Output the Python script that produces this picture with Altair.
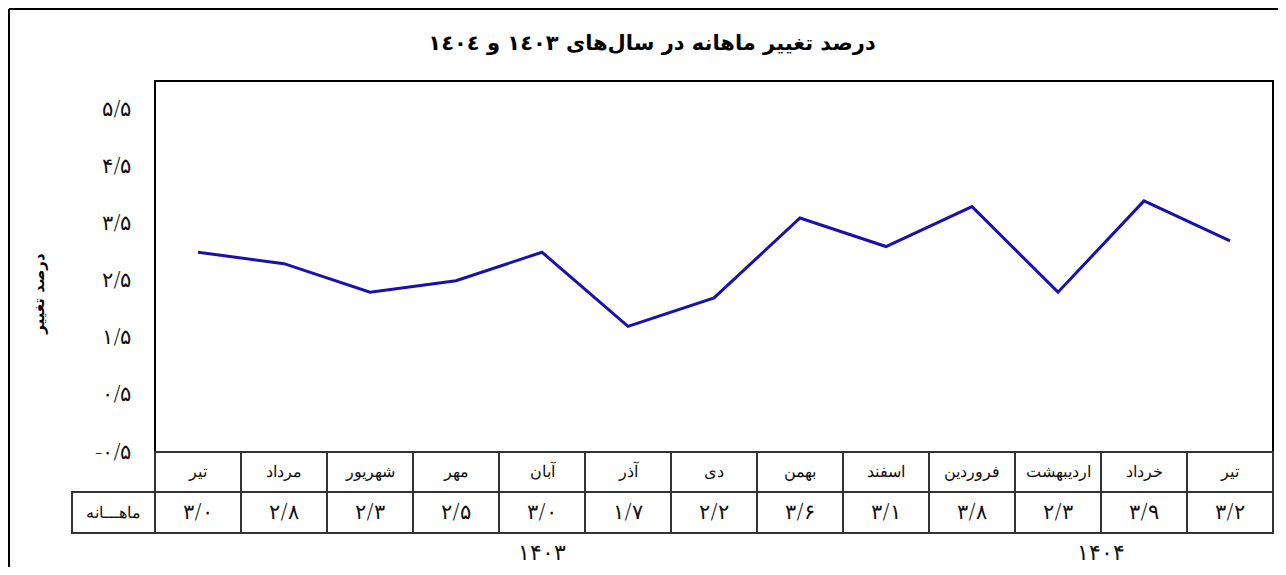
import altair as alt
import pandas as pd

# ---- data ----
months = ['تیر', 'مرداد', 'شهریور', 'مهر', 'آبان', 'آذر', 'دی', 'بهمن',
          'اسفند', 'فروردین', 'اردیبهشت', 'خرداد', 'تیر']
values = [3.0, 2.8, 2.3, 2.5, 3.0, 1.7, 2.2, 3.6, 3.1, 3.8, 2.3, 3.9, 3.2]
y_ticks = [-0.5, 0.5, 1.5, 2.5, 3.5, 4.5, 5.5]
y_tick_labels = ['-۰/۵', '۰/۵', '۱/۵', '۲/۵', '۳/۵', '۴/۵', '۵/۵']
years = ['۱۴۰۳', '۱۴۰۴']
year_pos = [4.5, 11.0]
row_label = 'ماهـــانه'
title_text = 'درصد تغییر ماهانه در سال‌های ١٤٠٣ و ١٤٠٤'
y_title = 'درصد تغییر'

PERSIAN = str.maketrans('0123456789.', '۰۱۲۳۴۵۶۷۸۹/')
value_labels = [f'{v:.1f}'.translate(PERSIAN) for v in values]

# table geometry (in data units of the shared scales)
ROW1 = (-0.5, -1.2)
ROW2 = (-1.2, -1.92)
LABEL_X = (-0.965, 0.0)
YEAR_Y = -2.27

n = len(months)
FONT = 'DejaVu Sans'

xs = alt.Scale(domain=[0, n], nice=False, zero=False)
ys = alt.Scale(domain=[-0.5, 6.0], nice=False, zero=False)

label_expr = '[' + ','.join(f"'{t}'" for t in y_tick_labels) + '][round(datum.value + 0.5)]'
yaxis = alt.Axis(values=y_ticks, labelExpr=label_expr, ticks=False, domain=False,
                 grid=False, labelPadding=24, labelFontSize=21, labelFont=FONT,
                 labelFontWeight=300, labelColor='#111111', title=y_title, titleFont=FONT,
                 titleFontSize=15, titleFontWeight='bold', titleColor='black',
                 titleX=-109, titleY=212, titleAngle=270)

def X(f='x'):
    return alt.X(f'{f}:Q', scale=xs, axis=None)

def Y(f='y'):
    return alt.Y(f'{f}:Q', scale=ys, axis=yaxis)

line_df = pd.DataFrame({'x': [i + 0.5 for i in range(n)], 'y': values})
line = alt.Chart(line_df).mark_line(color='#1a10b0', strokeWidth=3).encode(x=X(), y=Y())

cells = []
for i in range(n):
    for r in (ROW1, ROW2):
        cells.append({'x': i, 'x2': i + 1, 'y': r[0], 'y2': r[1]})
cells.append({'x': LABEL_X[0], 'x2': LABEL_X[1], 'y': ROW2[0], 'y2': ROW2[1]})
cells_df = pd.DataFrame(cells)
table = alt.Chart(cells_df).mark_rect(fill='white', stroke='#333333', strokeWidth=2).encode(
    x=X(), x2='x2:Q', y=Y(), y2='y2:Q')

month_df = pd.DataFrame({'x': [i + 0.5 for i in range(n)],
                         'y': [(ROW1[0] + ROW1[1]) / 2] * n, 't': months})
month_text = alt.Chart(month_df).mark_text(font=FONT, fontSize=16, fontWeight=300,
                                           color='#111111', baseline='middle').encode(
    x=X(), y=Y(), text='t:N')

val_df = pd.DataFrame({'x': [i + 0.5 for i in range(n)] + [(LABEL_X[0] + LABEL_X[1]) / 2],
                       'y': [(ROW2[0] + ROW2[1]) / 2] * (n + 1),
                       't': value_labels + [row_label],
                       's': [21] * n + [16]})
val_text = alt.Chart(val_df).mark_text(font=FONT, fontWeight=300, color='#111111',
                                       baseline='middle').encode(
    x=X(), y=Y(), text='t:N', size=alt.Size('s:Q', scale=None, legend=None))

year_df = pd.DataFrame({'x': year_pos, 'y': [YEAR_Y] * 2, 't': years})
year_text = alt.Chart(year_df).mark_text(font=FONT, fontSize=22, fontWeight=300,
                                         color='#111111', baseline='middle').encode(
    x=X(), y=Y(), text='t:N')

one = pd.DataFrame({'a': [0]})
frame_top = alt.Chart(one).mark_rule(color='black', strokeWidth=2).encode(
    x=alt.value(-146), x2=alt.value(1140), y=alt.value(-72))
frame_left = alt.Chart(one).mark_rule(color='black', strokeWidth=2).encode(
    x=alt.value(-146), y=alt.value(-72), y2=alt.value(500))

chart = alt.layer(table, line, month_text, val_text, year_text, frame_top, frame_left).properties(
    width=1118, height=371,
    autosize='none',
    padding={'left': 147, 'top': 73, 'right': 5, 'bottom': 115},
    title=alt.Title(title_text, font=FONT, fontSize=21, fontWeight='bold', color='black',
                    anchor='middle', dx=-62, offset=0, dy=46),
).configure_view(stroke='black', strokeWidth=2)

chart.save('out.html', embed_options={'renderer': 'svg', 'actions': False})
